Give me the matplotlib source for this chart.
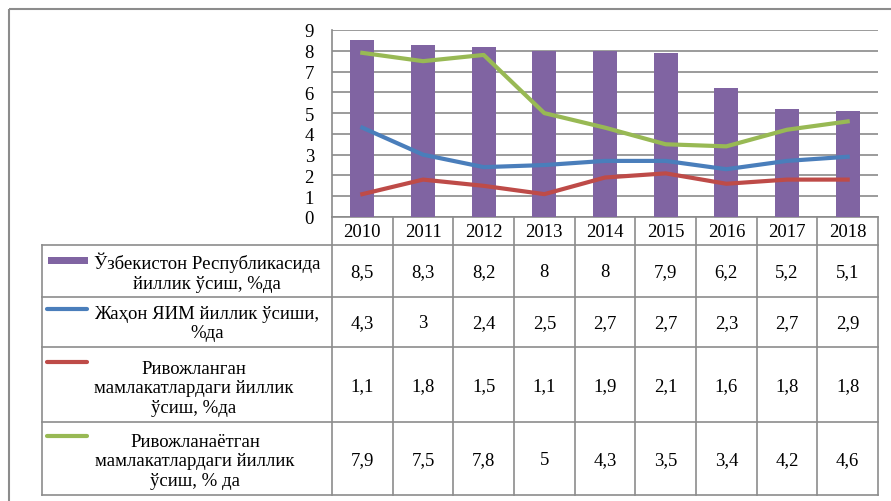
import matplotlib.pyplot as plt
import matplotlib.transforms as mtransforms
from matplotlib.patches import Rectangle

plt.rcParams['font.family'] = ['Liberation Serif', 'DejaVu Serif']

years = [2010, 2011, 2012, 2013, 2014, 2015, 2016, 2017, 2018]
uzb = [8.5, 8.3, 8.2, 8, 8, 7.9, 6.2, 5.2, 5.1]
world = [4.3, 3, 2.4, 2.5, 2.7, 2.7, 2.3, 2.7, 2.9]
developed = [1.1, 1.8, 1.5, 1.1, 1.9, 2.1, 1.6, 1.8, 1.8]
developing = [7.9, 7.5, 7.8, 5, 4.3, 3.5, 3.4, 4.2, 4.6]

series_names = [
    "Ўзбекистон Республикасида\nйиллик ўсиш, %да",
    "Жаҳон ЯИМ йиллик ўсиши,\n%да",
    "Ривожланган\nмамлакатлардаги йиллик\nўсиш, %да",
    "Ривожланаётган\nмамлакатлардаги йиллик\nўсиш, % да",
]
series_values = [uzb, world, developed, developing]
colors = ['#8064A2', '#4A7EBB', '#BE4B48', '#98B954']

W, H = 891, 502
fs = 13.5
grid_c = '#8A8A8A'

fig = plt.figure(figsize=(W / 100, H / 100), dpi=100)

# overlay in pixel coordinates for frame + table
ov = fig.add_axes([0, 0, 1, 1], zorder=0)
ov.set_xlim(0, W)
ov.set_ylim(H, 0)
ov.axis('off')

# chart area
x0, x1, ytop, ybot = 332, 878, 31, 218
ax = fig.add_axes([x0 / W, (H - ybot) / H, (x1 - x0) / W, (ybot - ytop) / H], zorder=1)
ax.patch.set_alpha(0)
xs = list(range(len(years)))
ax.bar(xs, uzb, width=0.4, color=colors[0], zorder=2)
for vals, c in zip(series_values[1:], colors[1:]):
    ax.plot(xs, vals, color=c, lw=3.0, solid_joinstyle='round', zorder=3)
ax.set_xlim(-0.5, len(years) - 0.5)
ax.set_ylim(0, 9)
ax.set_yticks(range(10))
ax.yaxis.grid(True, color=grid_c, lw=1.2, zorder=0)
ax.set_axisbelow(True)
for s in ['top', 'right', 'bottom']:
    ax.spines[s].set_visible(False)
ax.spines['left'].set_color(grid_c)
ax.spines['left'].set_linewidth(1.2)
ax.tick_params(axis='y', length=0, pad=13, labelsize=fs)
ax.set_xticks([])

# table: x in chart data coords, y in pixels
tr = mtransforms.blended_transform_factory(ax.transData, ov.transData)
lc = '#8C8C8C'
rows = [246, 298, 348, 423, 496]
tl = 42

# outer frame
ov.add_patch(Rectangle((9, 10), W, H, fill=False, ec='#8C8C8C', lw=1.5))

# horizontal lines
ov.plot([x0, x1], [ybot, ybot], color=lc, lw=1.2)
for y in rows:
    ov.plot([tl, x1], [y, y], color=lc, lw=1.2)
# vertical lines
ov.plot([tl, tl], [rows[0], rows[-1]], color=lc, lw=1.2)
for i in range(len(years) + 1):
    ax_x = i - 0.5
    ov.plot([ax_x, ax_x], [ybot, rows[-1]], color=lc, lw=1.2, transform=tr)

# year row
for i, yr in enumerate(years):
    ov.text(i, (ybot + rows[0]) / 2 + 1, str(yr), transform=tr, ha='center', va='center', fontsize=fs)

# series rows
label_x = [207, 207, 194, 195]
label_y = [273, 324, 389, 462]
key_y = [261, 310, 363, 437]
for r, (name, vals) in enumerate(zip(series_names, series_values)):
    yc = (rows[r] + rows[r + 1]) / 2 + 1
    for i, v in enumerate(vals):
        ov.text(i, yc, f"{v:g}".replace('.', ','), transform=tr, ha='center', va='center', fontsize=fs)
    ov.text(label_x[r], label_y[r], name, ha='center', va='center', multialignment='center',
            fontsize=fs, linespacing=1.2)
    if r == 0:
        ov.add_patch(Rectangle((48, key_y[r] - 3.5), 40, 7, color=colors[r], lw=0))
    else:
        ov.plot([47, 87], [key_y[r], key_y[r]], color=colors[r], lw=3.0, solid_capstyle='round')

fig.savefig('out.png', dpi=100)
